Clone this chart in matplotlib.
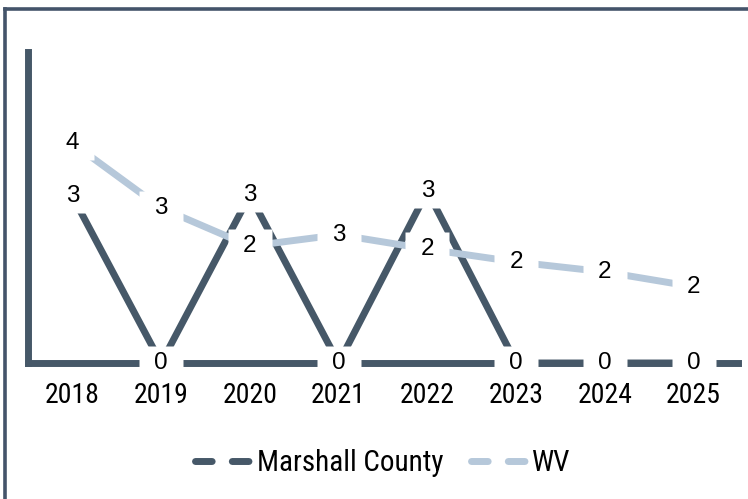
import matplotlib
matplotlib.use("Agg")
import matplotlib.pyplot as plt
from matplotlib import font_manager
from matplotlib.lines import Line2D
from matplotlib.path import Path

plt.rcParams["lines.scale_dashes"] = False

years = ["2018", "2019", "2020", "2021", "2022", "2023", "2024", "2025"]
marshall = [3.37, 0, 3.39, 0, 3.47, 0, 0, 0]
wv = [4.44, 3.13, 2.36, 2.59, 2.30, 2.04, 1.84, 1.54]
series_names = ["Marshall County", "WV"]

DARK = "#465868"
LIGHT = "#B6C8DA"


def pick(fams):
    for f in fams:
        try:
            font_manager.findfont(f, fallback_to_default=False)
            return f
        except Exception:
            continue
    return "DejaVu Sans"


narrow = pick(["Liberation Sans Narrow", "Roboto Condensed", "Open Sans Condensed", "Liberation Sans"])
regular = pick(["Liberation Sans", "Arial", "DejaVu Sans"])

W, H = 748, 499
fig = plt.figure(figsize=(W / 100, H / 100), dpi=100)
ax = fig.add_axes([28 / W, (H - 363) / H, (738 - 28) / W, (363 - 52) / H])

x = list(range(len(years)))
ax.plot(x, marshall, color=DARK, lw=5, solid_joinstyle="round", zorder=2)
ax.plot(x, wv, color=LIGHT, lw=5, solid_joinstyle="round", zorder=3)

# white label boxes
rect = Path([(-1, -0.75), (1, -0.75), (1, 0.75), (-1, 0.75), (-1, -0.75)],
            [Path.MOVETO, Path.LINETO, Path.LINETO, Path.LINETO, Path.CLOSEPOLY])
for vals in (marshall, wv):
    ax.plot(x, vals, linestyle="none", marker=rect, ms=32, mfc="white",
            mec="none", zorder=4, clip_on=False)
    for xi, v in zip(x, vals):
        ax.text(xi, v, f"{v:.0f}", ha="center", va="center", fontsize=17.5,
                family=[regular, "DejaVu Sans"], color="black", zorder=5,
                clip_on=False)

ax.set_xlim(-0.5, len(years) - 0.5)
ax.set_ylim(0, 6.28)
ax.set_xticks(x)
ax.set_xticklabels(years, family=[narrow, "DejaVu Sans"], fontsize=20)
ax.set_yticks([])
ax.tick_params(axis="x", length=0, pad=14, colors="black")
for s in ("top", "right"):
    ax.spines[s].set_visible(False)
for s in ("left", "bottom"):
    ax.spines[s].set_linewidth(5)
    ax.spines[s].set_color(DARK)
    ax.spines[s].set_zorder(1)
ax.patch.set_alpha(0)

handles = [
    Line2D([], [], color=DARK, lw=5, dashes=(12, 14.5), dash_capstyle="round"),
    Line2D([], [], color=LIGHT, lw=5, dashes=(12, 14.5), dash_capstyle="round"),
]
leg = fig.legend(handles, series_names, loc="center", ncol=2,
                 bbox_to_anchor=(383 / W, (H - 463) / H), frameon=False,
                 prop={"family": [narrow, "DejaVu Sans"], "size": 21},
                 handlelength=1.95, handletextpad=0.15, columnspacing=0.95)

# chart border (cropped: only left and top edges visible)
fig.add_artist(Line2D([5 / W, 5 / W], [0, (H - 9) / H], color="#44546A", lw=2.6,
                      solid_capstyle="projecting", transform=fig.transFigure))
fig.add_artist(Line2D([5 / W, 1], [(H - 9) / H, (H - 9) / H], color="#44546A", lw=2.6,
                      solid_capstyle="projecting", transform=fig.transFigure))

fig.savefig("out.png", dpi=100)
